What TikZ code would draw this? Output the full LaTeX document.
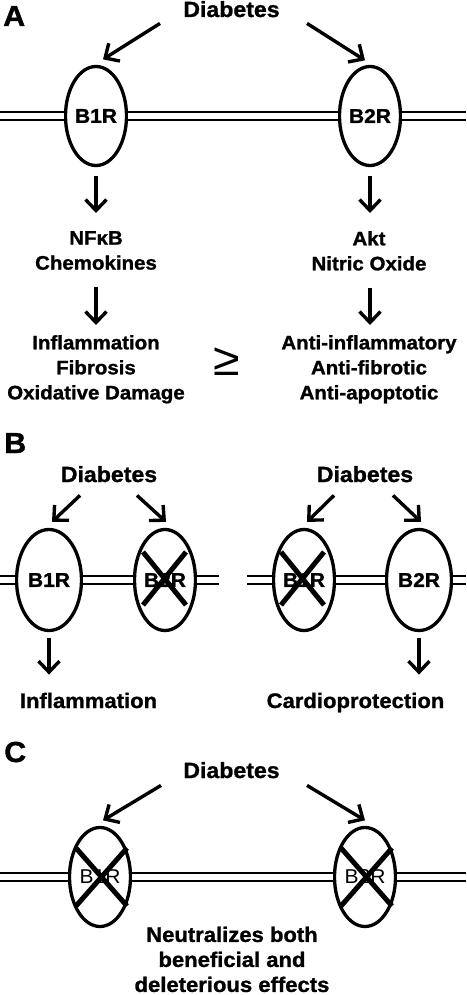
\documentclass[tikz,border=0pt]{standalone}
\usepackage{fontspec}
\setmainfont{Liberation Sans}[FakeStretch=1.05,BoldFeatures={FakeBold=1.2}]
\usetikzlibrary{positioning,shapes.geometric,arrows.meta}

\begin{document}
\begin{tikzpicture}[x=1pt,y=-1pt,
		txt/.style={font=\bfseries\fontsize{19.5}{25}\selectfont,inner sep=0pt,align=center},
		txtb/.style={font=\bfseries\fontsize{21}{25}\selectfont,inner sep=0pt,align=center},
		dia/.style={font=\bfseries\fontsize{22}{25}\selectfont,inner sep=0pt,anchor=base},
		panel/.style={font=\bfseries\fontsize{29}{29}\selectfont,inner sep=0pt,anchor=base west},
		rec/.style={ellipse,draw,line width=3.3pt,fill=white,inner sep=0pt,minimum width=61pt,minimum height=99pt,font=\bfseries\fontsize{20}{20}\selectfont},
		arr/.style={line width=3.4pt,-{Straight Barb[length=11pt,width=21pt]}},
		mem/.style={line width=2.2pt,double,double distance=5.8pt},
		knock/.style={line width=5pt}]
		\useasboundingbox (0,0) rectangle (466,995);
		
		% A
		\node[panel] (pA) at (3,26) {A};
		\node[dia] (dA) at (231.5,17) {Diabetes};
		\coordinate (mA0) at (0,116);
		\coordinate (mA1) at (466,116);
		\node[rec] (b1A) at (96,116) {B1R};
		\node[rec] (b2A) at (370,116) {B2R};
		\draw[mem] (mA0) -- (b1A) -- (b2A) -- (mA1);
		\draw[arr] ([shift={(-71.5,6)}]dA.south) -- ([shift={(7,-5.5)}]b1A.north);
		\draw[arr] ([shift={(75.5,6)}]dA.south) -- ([shift={(-5,-4.5)}]b2A.north);
		\node[txt,anchor=north] (nfA) at (96,231) {NFκB\\Chemokines};
		\node[txt,anchor=north] (akA) at (369,231) {Akt\\Nitric Oxide};
		\draw[arr,shorten <=9pt,shorten >=18pt] (b1A.south) -- (b1A.south |- nfA.north);
		\draw[arr,shorten <=9pt,shorten >=18pt] (b2A.south) -- (b2A.south |- akA.north);
		\node[txt,anchor=north] (inA) at (96,335) {Inflammation\\Fibrosis\\Oxidative Damage};
		\node[txt,anchor=north] (anA) at (369,335) {Anti-inflammatory\\Anti-fibrotic\\Anti-apoptotic};
		\draw[arr,shorten <=17pt,shorten >=10pt] (b1A.south |- nfA.south) -- (b1A.south |- inA.north);
		\draw[arr,shorten <=17pt,shorten >=10pt] (b2A.south |- akA.south) -- (b2A.south |- anA.north);
		\node[font=\fontsize{46}{46}\selectfont,inner sep=0pt] (geA) at (227,362) {≥};
		
		% B
		\node[panel] (pB) at (4,453) {B};
		\node[dia] (dB1) at (109,482) {Diabetes};
		\node[dia] (dB2) at (365,482) {Diabetes};
		\coordinate (mB0) at (0,580);
		\coordinate (mB1) at (219,580);
		\coordinate (mB2) at (247,580);
		\coordinate (mB3) at (466,580);
		\node[rec,minimum width=65pt,minimum height=101pt] (b1B) at (49,580) {B1R};
		\node[rec,minimum height=101pt] (b2Bko) at (165,580) {B2R};
		\node[rec,minimum height=101pt] (b1Bko) at (304,580) {B1R};
		\node[rec,minimum width=65pt,minimum height=101pt] (b2B) at (419,580) {B2R};
		\draw[mem] (mB0) -- (b1B) -- (b2Bko) -- (mB1);
		\draw[mem] (mB2) -- (b1Bko) -- (b2B) -- (mB3);
		\draw[knock] (b2Bko.center) ++(-22,-28) -- ++(43,53);
		\draw[knock] (b2Bko.center) ++(21,-28) -- ++(-43,53);
		\draw[knock] (b1Bko.center) ++(-23,-28) -- ++(43,53);
		\draw[knock] (b1Bko.center) ++(20,-28) -- ++(-43,53);
		\draw[arr] ([shift={(-29,13)}]dB1.south) -- ([shift={(3,-6)}]b1B.north);
		\draw[arr] ([shift={(28,13)}]dB1.south) -- ([shift={(1,-6)}]b2Bko.north);
		\draw[arr] ([shift={(-31,13)}]dB2.south) -- ([shift={(3,-6)}]b1Bko.north);
		\draw[arr] ([shift={(28,13)}]dB2.south) -- ([shift={(2,-6)}]b2B.north);
		\node[txtb,anchor=base] (inB) at (88.5,708) {Inflammation};
		\node[txtb,anchor=base] (cpB) at (355.5,708) {Cardioprotection};
		\draw[arr,shorten <=6pt,shorten >=18pt] (b1B.south) -- (b1B.south |- inB.north);
		\draw[arr,shorten <=6pt,shorten >=18pt] (b2B.south) -- (b2B.south |- cpB.north);
		
		% C
		\node[panel] (pC) at (4,762) {C};
		\node[dia] (dC) at (231.5,778) {Diabetes};
		\coordinate (mC0) at (0,877);
		\coordinate (mC1) at (466,877);
		\node[rec,font=\fontsize{20}{20}\selectfont] (b1C) at (100,877) {B1R};
		\node[rec,font=\fontsize{20}{20}\selectfont] (b2C) at (365,877) {B2R};
		\draw[mem] (mC0) -- (b1C) -- (b2C) -- (mC1);
		\draw[knock] (b1C.center) ++(-24,-29) -- ++(51,58);
		\draw[knock] (b1C.center) ++(27,-29) -- ++(-51,58);
		\draw[knock] (b2C.center) ++(-24,-29) -- ++(51,58);
		\draw[knock] (b2C.center) ++(27,-29) -- ++(-51,58);
		\draw[arr] ([shift={(-70.5,7)}]dC.south) -- ([shift={(3,-5.5)}]b1C.north);
		\draw[arr] ([shift={(75.5,7)}]dC.south) -- ([shift={(0,-5.5)}]b2C.north);
		\node[txtb,anchor=north] (ntC) at (232,926.5) {Neutralizes both\\beneficial and\\deleterious effects};
	\end{tikzpicture}
\end{document}
